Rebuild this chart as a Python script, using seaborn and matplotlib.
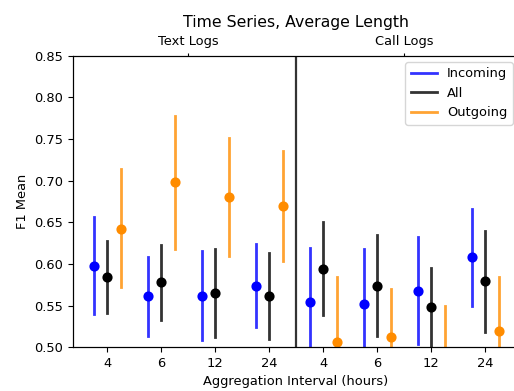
import matplotlib
matplotlib.use("Agg")
import pandas as pd
import matplotlib.pyplot as plt
import seaborn as sns
from matplotlib.lines import Line2D

# --- Data ---
intervals = ['4', '6', '12', '24']
sources = ['Text Logs', 'Call Logs']
groups = ['Incoming', 'All', 'Outgoing']

incoming_mean = [0.598, 0.561, 0.562, 0.574, 0.554, 0.552, 0.568, 0.608]
incoming_low = [0.540, 0.514, 0.509, 0.524, 0.489, 0.487, 0.504, 0.549]
incoming_high = [0.656, 0.608, 0.616, 0.624, 0.619, 0.618, 0.632, 0.666]

all_mean = [0.584, 0.578, 0.565, 0.562, 0.594, 0.574, 0.548, 0.579]
all_low = [0.541, 0.533, 0.512, 0.510, 0.539, 0.514, 0.502, 0.518]
all_high = [0.627, 0.623, 0.618, 0.613, 0.650, 0.635, 0.595, 0.640]

outgoing_mean = [0.642, 0.698, 0.680, 0.669, 0.506, 0.512, 0.488, 0.520]
outgoing_low = [0.572, 0.618, 0.610, 0.604, 0.428, 0.454, 0.428, 0.456]
outgoing_high = [0.714, 0.777, 0.751, 0.735, 0.584, 0.570, 0.549, 0.584]

y_ticks = [0.50, 0.55, 0.60, 0.65, 0.70, 0.75, 0.80, 0.85]
colors = {'Incoming': 'blue', 'All': 'black', 'Outgoing': 'darkorange'}

# --- Long-form table: low / mean / high per point (median + full range gives the bar) ---
series = {
    'Incoming': (incoming_low, incoming_mean, incoming_high),
    'All': (all_low, all_mean, all_high),
    'Outgoing': (outgoing_low, outgoing_mean, outgoing_high),
}
order = [f'{s} {iv}' for s in sources for iv in intervals]
rows = []
for g, (lo, mid, hi) in series.items():
    for i, key in enumerate(order):
        for v in (lo[i], mid[i], hi[i]):
            rows.append({'interval': key, 'group': g, 'f1': v})
df = pd.DataFrame(rows)

# --- Plot ---
fig = plt.figure(figsize=(5.14, 3.91), dpi=100)
ax = fig.add_axes([0.142, 0.112, 0.868, 0.746])

sns.pointplot(data=df, x='interval', y='f1', hue='group', order=order,
              hue_order=groups, palette=colors, estimator='median',
              errorbar=('pi', 100), dodge=0.5, linestyle='none',
              markers='o', markersize=5.3, err_kws={'linewidth': 2, 'alpha': 0.8},
              legend=False, ax=ax)

ax.axvline(3.5, color='#333333', linewidth=1.6)
ax.set_xlim(-0.63, 7.63)
ax.set_ylim(0.5, 0.85)
ax.set_yticks(y_ticks)
ax.set_yticklabels([f'{t:.2f}' for t in y_ticks], fontsize=9.4)
ax.set_xticks(range(len(order)))
ax.set_xticklabels(intervals * len(sources), fontsize=9.4)
ax.set_xlabel('Aggregation Interval (hours)', fontsize=9.4)
ax.set_ylabel('F1 Mean', fontsize=9.4)

# top axis with the log type labels
ax2 = ax.twiny()
ax2.set_xlim(ax.get_xlim())
ax2.set_xticks([1.5, 5.5])
ax2.set_xticklabels(sources, fontsize=9.4)
ax2.tick_params(axis='x', length=2)

ax.set_title('Time Series, Average Length', fontsize=11.3)

handles = [Line2D([0], [0], color=colors[g], linewidth=2, alpha=0.8) for g in groups]
ax.legend(handles, groups, loc='upper right', fontsize=9.4)

fig.savefig('out.png', dpi=100)
